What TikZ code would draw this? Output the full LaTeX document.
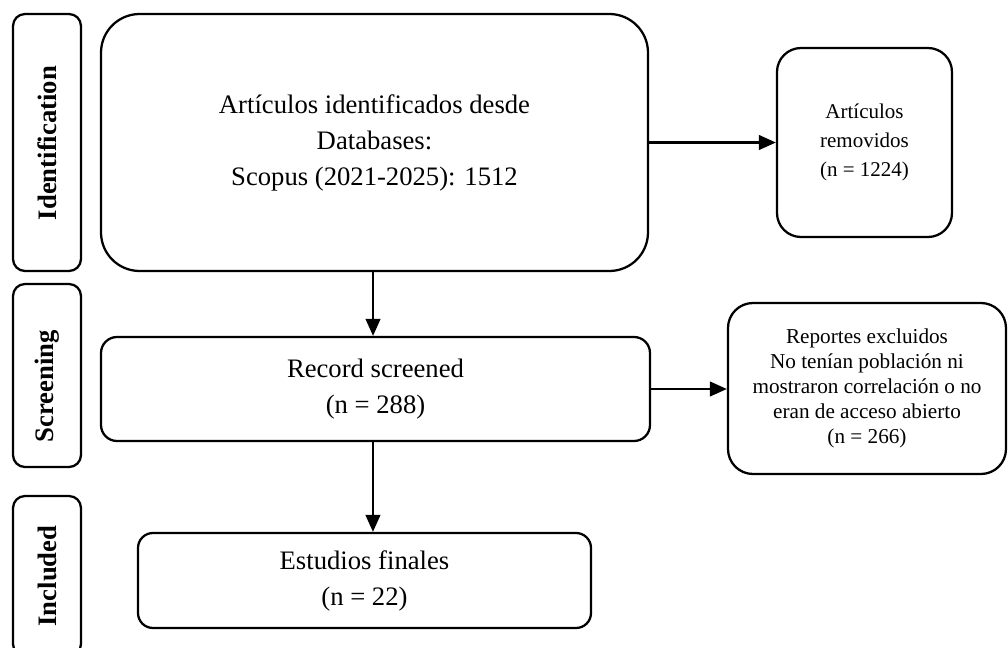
\documentclass[tikz,border=0pt]{standalone}
\usepackage{fontspec}
\setmainfont{Liberation Serif}
\usetikzlibrary{arrows.meta}
\begin{document}
\begin{tikzpicture}[x=0.75pt,y=-0.75pt,
  box/.style={draw=black, line width=1.7pt, inner sep=0pt, align=center, text=black},
  labbox/.style={box, minimum width=51pt, rounded corners=9pt},
  labtext/.style={rotate=90, inner sep=0pt, font=\fontsize{20}{24}\selectfont\bfseries},
  bigtext/.style={font=\fontsize{20}{27}\selectfont},
  smalltext/.style={font=\fontsize{15.75}{22}\selectfont},
  arr/.style={line width=1.6pt, -{Triangle[length=12.75pt,width=11pt]}}]
\useasboundingbox (0,0) rectangle (1008,647);
\clip (0,0) rectangle (1008,647);
% stage labels
\node[labbox, minimum height=192.75pt] (idbox) at (47,142.5) {};
\node[labtext] (idlab) at (47,143) {Identification};
\node[labbox, minimum height=137.25pt] (scrbox) at (47,375.5) {};
\node[labtext] (scrlab) at (47,386) {Screening};
\node[labbox, minimum height=120pt] (incbox) at (47,576) {};
\node[labtext] (inclab) at (47,576) {Included};
% main boxes
\node[box, bigtext, minimum width=410.25pt, minimum height=192.75pt, rounded corners=29pt] (ident) at (374.5,142.5)
  {Artículos identificados desde\\Databases:\\Scopus (2021-2025): 1512};
\node[box, smalltext, minimum width=131.25pt, minimum height=141.75pt, rounded corners=18pt] (removed) at (864.5,142.5)
  {Artículos\\removidos\\(n = 1224)};
\node[box, bigtext, minimum width=411.75pt, minimum height=78pt, rounded corners=12pt] (screened) at (375.5,389)
  {Record screened\\(n = 288)};
\node[box, font=\fontsize{15.9}{18.75}\selectfont, minimum width=208.5pt, minimum height=128.25pt, rounded corners=18.75pt] (excluded) at (867,388.5)
  {Reportes excluidos\\No tenían población ni\\mostraron correlación o no\\eran de acceso abierto\\(n = 266)};
\node[box, bigtext, minimum width=339.75pt, minimum height=71.25pt, rounded corners=11.25pt] (included) at (364.5,580.5)
  {Estudios finales\\(n = 22)};
% connectors
\draw[arr] (ident.east) -- (removed.west);
\draw[arr] ([xshift=-1.1pt]ident.south) -- ([xshift=-1.1pt]ident.south |- screened.north);
\draw[arr] (screened.east) -- (screened.east -| excluded.west);
\draw[arr] ([xshift=-1.9pt]screened.south) -- ([xshift=-1.9pt]screened.south |- included.north);
\end{tikzpicture}
\end{document}
